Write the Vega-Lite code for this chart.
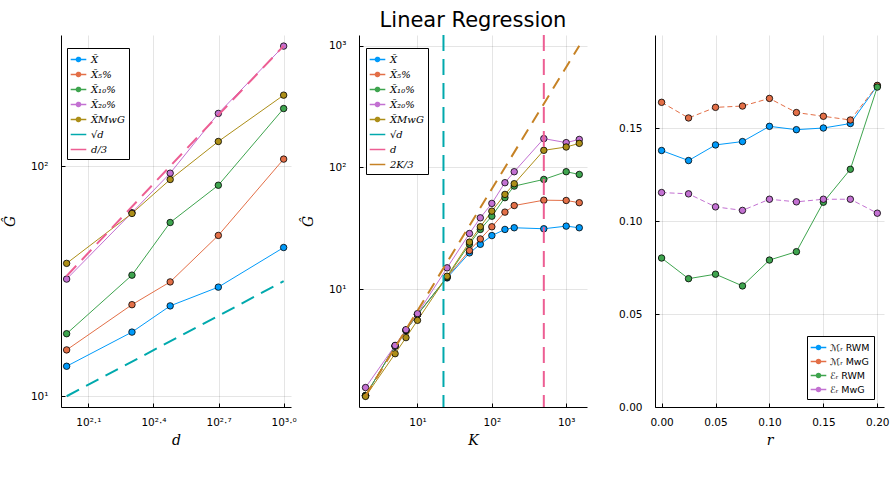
{
  "$schema": "https://vega.github.io/schema/vega-lite/v6.json",
  "background": "white",
  "padding": {"left": 3, "top": 10, "right": 5, "bottom": 5},
  "title": {"text": "Linear Regression", "fontSize": 21, "fontWeight": "normal", "font": "DejaVu Sans", "color": "black", "anchor": "middle", "offset": 3, "dx": 27},
  "config": {
    "view": {"stroke": null},
    "font": "DejaVu Sans",
    "axis": {
      "domainColor": "black", "domainWidth": 1,
      "gridColor": "black", "gridOpacity": 0.1, "gridWidth": 1,
      "tickColor": "black", "tickSize": -4,
      "labelFont": "DejaVu Sans", "labelFontSize": 10.5, "labelColor": "black",
      "titleFont": "DejaVu Serif", "titleFontStyle": "italic", "titleFontWeight": "normal", "titleFontSize": 14, "titleColor": "black"
    },
    "axisX": {"labelPadding": 14, "titlePadding": 6},
    "axisY": {"labelPadding": 17, "minExtent": 31, "maxExtent": 31, "titlePadding": 13}
  },
  "datasets": {
    "scaling": [
      {"d": 100, "G": 13.5, "series": "X̄"}, {"d": 200, "G": 19.0, "series": "X̄"}, {"d": 300, "G": 24.7, "series": "X̄"}, {"d": 500, "G": 29.8, "series": "X̄"}, {"d": 1000, "G": 44.3, "series": "X̄"},
      {"d": 100, "G": 15.9, "series": "X̄₅%"}, {"d": 200, "G": 25.0, "series": "X̄₅%"}, {"d": 300, "G": 31.4, "series": "X̄₅%"}, {"d": 500, "G": 50.0, "series": "X̄₅%"}, {"d": 1000, "G": 107.3, "series": "X̄₅%"},
      {"d": 100, "G": 18.7, "series": "X̄₁₀%"}, {"d": 200, "G": 33.6, "series": "X̄₁₀%"}, {"d": 300, "G": 56.9, "series": "X̄₁₀%"}, {"d": 500, "G": 82.6, "series": "X̄₁₀%"}, {"d": 1000, "G": 178, "series": "X̄₁₀%"},
      {"d": 100, "G": 32.3, "series": "X̄₂₀%"}, {"d": 200, "G": 62.8, "series": "X̄₂₀%"}, {"d": 300, "G": 93.2, "series": "X̄₂₀%"}, {"d": 500, "G": 169.5, "series": "X̄₂₀%"}, {"d": 1000, "G": 332.4, "series": "X̄₂₀%"},
      {"d": 100, "G": 37.8, "series": "X̄MwG"}, {"d": 200, "G": 62.3, "series": "X̄MwG"}, {"d": 300, "G": 87.5, "series": "X̄MwG"}, {"d": 500, "G": 128, "series": "X̄MwG"}, {"d": 1000, "G": 203.5, "series": "X̄MwG"}
    ],
    "scaling_ref": [
      {"d": 100, "G": 10, "series": "√d"}, {"d": 1000, "G": 31.62, "series": "√d"},
      {"d": 100, "G": 33.33, "series": "d/3"}, {"d": 1000, "G": 333.3, "series": "d/3"}
    ],
    "kgrid": [
      {"K": 2, "G": 1.34, "series": "X̄"}, {"K": 5, "G": 3.42, "series": "X̄"}, {"K": 7, "G": 4.6, "series": "X̄"}, {"K": 10, "G": 6.2, "series": "X̄"}, {"K": 25, "G": 12.4, "series": "X̄"}, {"K": 50, "G": 19.9, "series": "X̄"}, {"K": 70, "G": 23.4, "series": "X̄"}, {"K": 100, "G": 27.6, "series": "X̄"}, {"K": 150, "G": 31.0, "series": "X̄"}, {"K": 200, "G": 32.0, "series": "X̄"}, {"K": 500, "G": 31.4, "series": "X̄"}, {"K": 1000, "G": 33.0, "series": "X̄"}, {"K": 1500, "G": 32.0, "series": "X̄"},
      {"K": 2, "G": 1.34, "series": "X̄₅%"}, {"K": 5, "G": 3.42, "series": "X̄₅%"}, {"K": 7, "G": 4.6, "series": "X̄₅%"}, {"K": 10, "G": 6.2, "series": "X̄₅%"}, {"K": 25, "G": 12.6, "series": "X̄₅%"}, {"K": 50, "G": 20.8, "series": "X̄₅%"}, {"K": 70, "G": 25.9, "series": "X̄₅%"}, {"K": 100, "G": 32.6, "series": "X̄₅%"}, {"K": 150, "G": 43.0, "series": "X̄₅%"}, {"K": 200, "G": 48.7, "series": "X̄₅%"}, {"K": 500, "G": 53.9, "series": "X̄₅%"}, {"K": 1000, "G": 53.6, "series": "X̄₅%"}, {"K": 1500, "G": 51.4, "series": "X̄₅%"},
      {"K": 2, "G": 1.34, "series": "X̄₁₀%"}, {"K": 5, "G": 3.42, "series": "X̄₁₀%"}, {"K": 7, "G": 4.6, "series": "X̄₁₀%"}, {"K": 10, "G": 6.2, "series": "X̄₁₀%"}, {"K": 25, "G": 12.6, "series": "X̄₁₀%"}, {"K": 50, "G": 23.5, "series": "X̄₁₀%"}, {"K": 70, "G": 31.0, "series": "X̄₁₀%"}, {"K": 100, "G": 39.8, "series": "X̄₁₀%"}, {"K": 150, "G": 56.5, "series": "X̄₁₀%"}, {"K": 200, "G": 70.3, "series": "X̄₁₀%"}, {"K": 500, "G": 79.8, "series": "X̄₁₀%"}, {"K": 1000, "G": 92.3, "series": "X̄₁₀%"}, {"K": 1500, "G": 87.7, "series": "X̄₁₀%"},
      {"K": 2, "G": 1.56, "series": "X̄₂₀%"}, {"K": 5, "G": 3.46, "series": "X̄₂₀%"}, {"K": 7, "G": 4.66, "series": "X̄₂₀%"}, {"K": 10, "G": 6.31, "series": "X̄₂₀%"}, {"K": 25, "G": 15.0, "series": "X̄₂₀%"}, {"K": 50, "G": 28.7, "series": "X̄₂₀%"}, {"K": 70, "G": 38.6, "series": "X̄₂₀%"}, {"K": 100, "G": 50.7, "series": "X̄₂₀%"}, {"K": 150, "G": 75.0, "series": "X̄₂₀%"}, {"K": 200, "G": 92.3, "series": "X̄₂₀%"}, {"K": 500, "G": 172.6, "series": "X̄₂₀%"}, {"K": 1000, "G": 160, "series": "X̄₂₀%"}, {"K": 1500, "G": 170, "series": "X̄₂₀%"},
      {"K": 2, "G": 1.32, "series": "X̄MwG"}, {"K": 5, "G": 2.96, "series": "X̄MwG"}, {"K": 7, "G": 4.01, "series": "X̄MwG"}, {"K": 10, "G": 5.56, "series": "X̄MwG"}, {"K": 25, "G": 12.8, "series": "X̄MwG"}, {"K": 50, "G": 24.4, "series": "X̄MwG"}, {"K": 70, "G": 32.6, "series": "X̄MwG"}, {"K": 100, "G": 43.8, "series": "X̄MwG"}, {"K": 150, "G": 60.1, "series": "X̄MwG"}, {"K": 200, "G": 73.6, "series": "X̄MwG"}, {"K": 500, "G": 138.3, "series": "X̄MwG"}, {"K": 1000, "G": 147.3, "series": "X̄MwG"}, {"K": 1500, "G": 157.8, "series": "X̄MwG"}
    ],
    "k_vlines": [
      {"K": 22.36, "series": "√d"},
      {"K": 500, "series": "d"}
    ],
    "k_ref": [
      {"K": 2, "G": 1.333, "series": "2K/3"}, {"K": 1500, "G": 1000, "series": "2K/3"}
    ],
    "robust": [
      {"r": 0.0, "v": 0.1379, "series": "ℳᵣ RWM", "sampler": "RWM"}, {"r": 0.025, "v": 0.1325, "series": "ℳᵣ RWM", "sampler": "RWM"}, {"r": 0.05, "v": 0.1409, "series": "ℳᵣ RWM", "sampler": "RWM"}, {"r": 0.075, "v": 0.1427, "series": "ℳᵣ RWM", "sampler": "RWM"}, {"r": 0.1, "v": 0.1509, "series": "ℳᵣ RWM", "sampler": "RWM"}, {"r": 0.125, "v": 0.1491, "series": "ℳᵣ RWM", "sampler": "RWM"}, {"r": 0.15, "v": 0.15, "series": "ℳᵣ RWM", "sampler": "RWM"}, {"r": 0.175, "v": 0.1524, "series": "ℳᵣ RWM", "sampler": "RWM"}, {"r": 0.2, "v": 0.1727, "series": "ℳᵣ RWM", "sampler": "RWM"},
      {"r": 0.0, "v": 0.1638, "series": "ℳᵣ MwG", "sampler": "MwG"}, {"r": 0.025, "v": 0.1554, "series": "ℳᵣ MwG", "sampler": "MwG"}, {"r": 0.05, "v": 0.1611, "series": "ℳᵣ MwG", "sampler": "MwG"}, {"r": 0.075, "v": 0.1618, "series": "ℳᵣ MwG", "sampler": "MwG"}, {"r": 0.1, "v": 0.1659, "series": "ℳᵣ MwG", "sampler": "MwG"}, {"r": 0.125, "v": 0.1583, "series": "ℳᵣ MwG", "sampler": "MwG"}, {"r": 0.15, "v": 0.1563, "series": "ℳᵣ MwG", "sampler": "MwG"}, {"r": 0.175, "v": 0.1543, "series": "ℳᵣ MwG", "sampler": "MwG"}, {"r": 0.2, "v": 0.1729, "series": "ℳᵣ MwG", "sampler": "MwG"},
      {"r": 0.0, "v": 0.0801, "series": "ℰᵣ RWM", "sampler": "RWM"}, {"r": 0.025, "v": 0.069, "series": "ℰᵣ RWM", "sampler": "RWM"}, {"r": 0.05, "v": 0.0714, "series": "ℰᵣ RWM", "sampler": "RWM"}, {"r": 0.075, "v": 0.0651, "series": "ℰᵣ RWM", "sampler": "RWM"}, {"r": 0.1, "v": 0.079, "series": "ℰᵣ RWM", "sampler": "RWM"}, {"r": 0.125, "v": 0.0835, "series": "ℰᵣ RWM", "sampler": "RWM"}, {"r": 0.15, "v": 0.1101, "series": "ℰᵣ RWM", "sampler": "RWM"}, {"r": 0.175, "v": 0.1278, "series": "ℰᵣ RWM", "sampler": "RWM"}, {"r": 0.2, "v": 0.172, "series": "ℰᵣ RWM", "sampler": "RWM"},
      {"r": 0.0, "v": 0.1153, "series": "ℰᵣ MwG", "sampler": "MwG"}, {"r": 0.025, "v": 0.1146, "series": "ℰᵣ MwG", "sampler": "MwG"}, {"r": 0.05, "v": 0.1076, "series": "ℰᵣ MwG", "sampler": "MwG"}, {"r": 0.075, "v": 0.1057, "series": "ℰᵣ MwG", "sampler": "MwG"}, {"r": 0.1, "v": 0.1117, "series": "ℰᵣ MwG", "sampler": "MwG"}, {"r": 0.125, "v": 0.1103, "series": "ℰᵣ MwG", "sampler": "MwG"}, {"r": 0.15, "v": 0.1117, "series": "ℰᵣ MwG", "sampler": "MwG"}, {"r": 0.175, "v": 0.1117, "series": "ℰᵣ MwG", "sampler": "MwG"}, {"r": 0.2, "v": 0.1042, "series": "ℰᵣ MwG", "sampler": "MwG"}
    ]
  },
  "resolve": {"scale": {"color": "independent"}},
  "bounds": "flush",
  "spacing": 68,
  "hconcat": [
    {
      "width": 230,
      "height": 372,
      "encoding": {
        "x": {"field": "d", "type": "quantitative", "scale": {"type": "log", "domain": [94.2, 1081], "nice": false},
              "axis": {"title": "d", "values": [125.89, 251.19, 501.19, 1000], "labelExpr": "datum.value < 200 ? '10²·¹' : datum.value < 400 ? '10²·⁴' : datum.value < 700 ? '10²·⁷' : '10³·⁰'"}},
        "y": {"field": "G", "type": "quantitative", "scale": {"type": "log", "domain": [8.98, 371.5], "nice": false},
              "axis": {"title": "Ĝ", "values": [10, 100], "labelExpr": "datum.value < 50 ? '10¹' : '10²'"}},
        "color": {"field": "series", "type": "nominal",
          "scale": {"domain": ["X̄", "X̄₅%", "X̄₁₀%", "X̄₂₀%", "X̄MwG", "√d", "d/3"],
                    "range": ["#009AFA", "#E36F47", "#3EA44E", "#C371D2", "#AC8E18", "#00A9AD", "#ED5E93"]},
          "legend": {
            "title": null, "orient": "none", "legendX": 6, "legendY": 13,
            "strokeColor": "black", "fillColor": "white", "padding": 4,
            "labelFont": "DejaVu Serif", "labelFontStyle": "italic", "labelFontSize": 10, "labelColor": "black",
            "symbolSize": 169, "rowPadding": 2, "labelOffset": 5,
            "encode": {"symbols": {"update": {
              "shape": {"signal": "datum.value == '√d' || datum.value == 'd/3' ? 'M-1.2,0L1.2,0' : 'M-1.2,0L1.2,0M0.32,0A0.32,0.32,0,1,1,-0.32,0A0.32,0.32,0,1,1,0.32,0Z'"},
              "fill": {"signal": "datum.value == '√d' || datum.value == 'd/3' ? 'transparent' : ['#009AFA', '#E36F47', '#3EA44E', '#C371D2', '#AC8E18'][indexof(['X̄', 'X̄₅%', 'X̄₁₀%', 'X̄₂₀%', 'X̄MwG'], datum.value)]"},
              "stroke": {"signal": "['#009AFA', '#E36F47', '#3EA44E', '#C371D2', '#AC8E18', '#00A9AD', '#ED5E93'][indexof(['X̄', 'X̄₅%', 'X̄₁₀%', 'X̄₂₀%', 'X̄MwG', '√d', 'd/3'], datum.value)]"},
              "strokeWidth": {"value": 1.5},
              "strokeDash": {"value": [1, 0]},
              "opacity": {"value": 1}
            }}}
          }}
      },
      "layer": [
        {"data": {"name": "scaling"}, "mark": {"type": "line", "strokeWidth": 1}},
        {"data": {"name": "scaling"}, "mark": {"type": "point", "filled": true, "size": 42, "stroke": "black", "strokeWidth": 0.8, "opacity": 1}},
        {"data": {"name": "scaling_ref"}, "mark": {"type": "line", "strokeWidth": 2, "strokeDash": [14, 8]}}
      ]
    },
    {
      "width": 228,
      "height": 372,
      "encoding": {
        "x": {"field": "K", "type": "quantitative", "scale": {"type": "log", "domain": [1.634, 1905], "nice": false},
              "axis": {"title": "K", "values": [10, 100, 1000], "labelExpr": "datum.value < 50 ? '10¹' : datum.value < 500 ? '10²' : '10³'"}},
        "color": {"field": "series", "type": "nominal",
          "scale": {"domain": ["X̄", "X̄₅%", "X̄₁₀%", "X̄₂₀%", "X̄MwG", "√d", "d", "2K/3"],
                    "range": ["#009AFA", "#E36F47", "#3EA44E", "#C371D2", "#AC8E18", "#00A9AD", "#ED5E93", "#C68225"]},
          "legend": {
            "title": null, "orient": "none", "legendX": 7, "legendY": 13,
            "strokeColor": "black", "fillColor": "white", "padding": 4,
            "labelFont": "DejaVu Serif", "labelFontStyle": "italic", "labelFontSize": 10, "labelColor": "black",
            "symbolSize": 169, "rowPadding": 2, "labelOffset": 5,
            "encode": {"symbols": {"update": {
              "shape": {"signal": "indexof(['√d', 'd', '2K/3'], datum.value) >= 0 ? 'M-1.2,0L1.2,0' : 'M-1.2,0L1.2,0M0.32,0A0.32,0.32,0,1,1,-0.32,0A0.32,0.32,0,1,1,0.32,0Z'"},
              "fill": {"signal": "indexof(['√d', 'd', '2K/3'], datum.value) >= 0 ? 'transparent' : ['#009AFA', '#E36F47', '#3EA44E', '#C371D2', '#AC8E18'][indexof(['X̄', 'X̄₅%', 'X̄₁₀%', 'X̄₂₀%', 'X̄MwG'], datum.value)]"},
              "stroke": {"signal": "['#009AFA', '#E36F47', '#3EA44E', '#C371D2', '#AC8E18', '#00A9AD', '#ED5E93', '#C68225'][indexof(['X̄', 'X̄₅%', 'X̄₁₀%', 'X̄₂₀%', 'X̄MwG', '√d', 'd', '2K/3'], datum.value)]"},
              "strokeWidth": {"value": 1.5},
              "strokeDash": {"value": [1, 0]},
              "opacity": {"value": 1}
            }}}
          }}
      },
      "layer": [
        {"data": {"name": "kgrid"}, "mark": {"type": "line", "strokeWidth": 1},
         "encoding": {"y": {"field": "G", "type": "quantitative", "scale": {"type": "log", "domain": [1.08, 1224], "nice": false},
              "axis": {"title": "Ĝ", "values": [10, 100, 1000], "labelExpr": "datum.value < 50 ? '10¹' : datum.value < 500 ? '10²' : '10³'"}}}},
        {"data": {"name": "kgrid"}, "mark": {"type": "point", "filled": true, "size": 42, "stroke": "black", "strokeWidth": 0.8, "opacity": 1},
         "encoding": {"y": {"field": "G", "type": "quantitative"}}},
        {"data": {"name": "k_vlines"}, "mark": {"type": "rule", "strokeWidth": 2, "strokeDash": [16, 8]}, "encoding": {}},
        {"data": {"name": "k_ref"}, "mark": {"type": "line", "strokeWidth": 2, "strokeDash": [12, 8]},
         "encoding": {"y": {"field": "G", "type": "quantitative"}}}
      ]
    },
    {
      "width": 229,
      "height": 372,
      "encoding": {
        "x": {"field": "r", "type": "quantitative", "scale": {"domain": [-0.0061, 0.2062], "nice": false, "zero": false},
              "axis": {"title": "r", "values": [0, 0.05, 0.1, 0.15, 0.2], "format": ".2f"}},
        "y": {"field": "v", "type": "quantitative", "scale": {"domain": [0, 0.2], "nice": false},
              "axis": {"title": null, "values": [0, 0.05, 0.1, 0.15], "format": ".2f"}},
        "color": {"field": "series", "type": "nominal",
          "scale": {"domain": ["ℳᵣ RWM", "ℳᵣ MwG", "ℰᵣ RWM", "ℰᵣ MwG"],
                    "range": ["#009AFA", "#E36F47", "#3EA44E", "#C371D2"]},
          "legend": {
            "title": null, "orient": "none", "legendX": 152, "legendY": 301,
            "strokeColor": "black", "fillColor": "white", "padding": 4,
            "labelFont": "DejaVu Sans", "labelFontSize": 9.5, "labelColor": "black",
            "symbolSize": 169, "rowPadding": 1, "labelOffset": 4,
            "encode": {"symbols": {"update": {
              "shape": {"value": "M-1.2,0L1.2,0M0.32,0A0.32,0.32,0,1,1,-0.32,0A0.32,0.32,0,1,1,0.32,0Z"},
              "fill": {"signal": "['#009AFA', '#E36F47', '#3EA44E', '#C371D2'][indexof(['ℳᵣ RWM', 'ℳᵣ MwG', 'ℰᵣ RWM', 'ℰᵣ MwG'], datum.value)]"},
              "stroke": {"signal": "['#009AFA', '#E36F47', '#3EA44E', '#C371D2'][indexof(['ℳᵣ RWM', 'ℳᵣ MwG', 'ℰᵣ RWM', 'ℰᵣ MwG'], datum.value)]"},
              "strokeWidth": {"value": 1.5},
              "opacity": {"value": 1}
            }}}
          }}
      },
      "layer": [
        {"data": {"name": "robust"}, "transform": [{"filter": "datum.sampler == 'RWM'"}], "mark": {"type": "line", "strokeWidth": 1}},
        {"data": {"name": "robust"}, "transform": [{"filter": "datum.sampler == 'MwG'"}], "mark": {"type": "line", "strokeWidth": 1, "strokeDash": [5, 3]}},
        {"data": {"name": "robust"}, "mark": {"type": "point", "filled": true, "size": 42, "stroke": "black", "strokeWidth": 0.8, "opacity": 1}}
      ]
    }
  ]
}
